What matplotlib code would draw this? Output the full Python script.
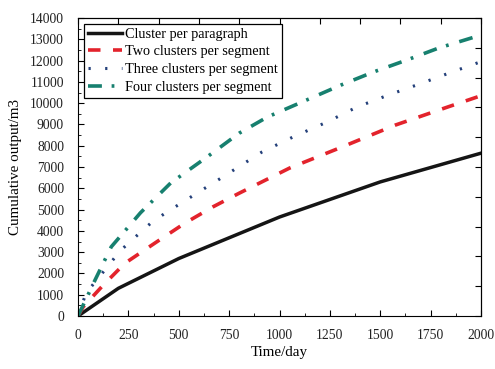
import numpy as np
import matplotlib.pyplot as plt

plt.rcParams['font.family'] = ['Liberation Serif', 'DejaVu Serif']
plt.rcParams['lines.scale_dashes'] = False

x_one = [0, 200, 500, 1000, 1500, 2000]
y_one = [0, 1300, 2700, 4650, 6300, 7650]

x_two = [0, 25, 125, 233, 390, 530, 670, 800, 1050, 1310, 1575, 1835, 2000]
y_two = [0, 420, 1450, 2480, 3480, 4360, 5130, 5770, 6950, 7940, 8970, 9820, 10350]

x_three = [0, 40, 85, 145, 208, 283, 362, 440, 520, 600, 680, 912, 1067, 1235, 1385, 1540, 1695, 1855, 2000]
y_three = [0, 1080, 1600, 2300, 3050, 3700, 4370, 4880, 5350, 5830, 6300, 7700, 8410, 9110, 9820, 10380, 10900, 11460, 11950]

x_four = [0, 85, 165, 310, 460, 640, 800, 940, 1135, 1305, 1465, 1630, 1790, 2000]
y_four = [0, 1700, 3250, 4850, 6250, 7470, 8590, 9350, 10150, 10850, 11460, 12020, 12590, 13200]

labels = ['Cluster per paragraph', 'Two clusters per segment',
          'Three clusters per segment', 'Four clusters per segment']

fig = plt.figure(figsize=(4.95, 3.69), dpi=100)
ax = fig.add_axes([0.1576, 0.1436, 0.8141, 0.8076])

ax.plot(x_one, y_one, color='#151515', lw=2.5, label=labels[0])
ax.plot(x_two, y_two, color='#e3232c', lw=2.6, dashes=(9, 9), label=labels[1])
ax.plot(x_three, y_three, color='#24407a', lw=2.2, dashes=(1.6, 10.4), label=labels[2])
ax.plot(x_four, y_four, color='#17806f', lw=2.6, dashes=(10, 7, 2, 8), label=labels[3])

ax.set_xlim(0, 2000)
ax.set_ylim(0, 14000)
ax.set_xticks(np.arange(0, 2001, 250))
ax.set_xticks(np.arange(0, 2001, 125), minor=True)
ax.set_yticks(np.arange(0, 14001, 1000))
ax.set_yticks(np.arange(0, 14001, 500), minor=True)
ax.tick_params(which='both', direction='in', labelsize=9.8, top=False, right=False,
               labelcolor='#222222')
ax.tick_params(which='major', length=4)
ax.tick_params(which='minor', length=2.5)
ax.tick_params(axis='x', which='major', pad=9)
ax.tick_params(axis='y', which='major', pad=10)

top = ax.secondary_xaxis('top')
top.set_xticks(np.arange(0, 2001, 200))
top.set_xticklabels([])
top.tick_params(direction='in', length=4)
right = ax.secondary_yaxis('right')
right.set_yticks(np.arange(0, 14001, 1400))
right.set_yticklabels([])
right.tick_params(direction='in', length=4)

ax.set_xlabel('Time/day', fontsize=10.8, labelpad=3)
ax.set_ylabel('Cumulative output/m3', fontsize=10.8, labelpad=6)

leg = ax.legend(loc='upper left', fontsize=10.3, frameon=True, fancybox=False,
                edgecolor='black', framealpha=1, handlelength=2.4,
                handletextpad=0.2, labelspacing=0.33, borderpad=0.28,
                borderaxespad=0.4)
leg.get_frame().set_linewidth(0.9)

fig.savefig('out.png', dpi=100)
